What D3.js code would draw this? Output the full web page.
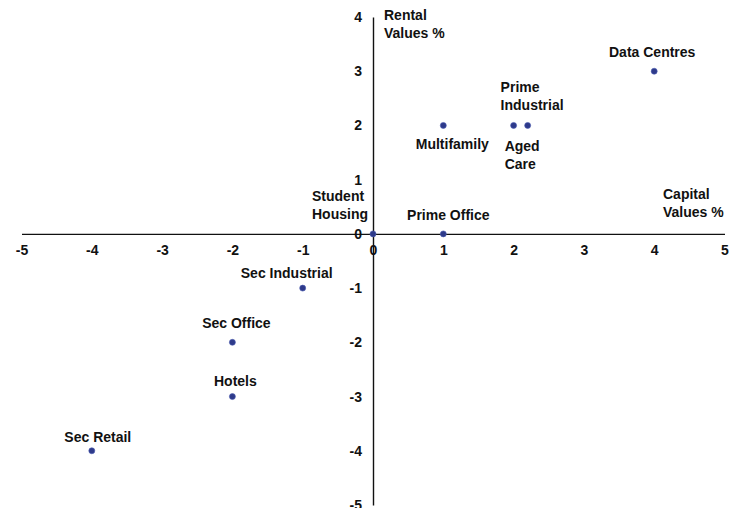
<!DOCTYPE html>
<html>
<head>
<meta charset="utf-8">
<script src="https://cdn.jsdelivr.net/npm/d3@7"></script>
<style>
  html, body { margin: 0; padding: 0; background: #fff; }
  svg { display: block; }
  .tick text { font-family: "Liberation Sans Narrow", "Liberation Sans", Arial, sans-serif; font-weight: bold; font-size: 14px; fill: #111; }
  .lbl { font-family: "Liberation Sans", Arial, sans-serif; font-weight: bold; font-size: 14px; fill: #111; }
</style>
</head>
<body>
<svg id="chart" width="740" height="508"></svg>
<script>
// Sectors: expected change in capital values (x) vs rental values (y), %
const sectors = ["Data Centres", "Prime Industrial", "Aged Care", "Multifamily", "Student Housing",
                 "Prime Office", "Sec Industrial", "Sec Office", "Hotels", "Sec Retail"];
const capitalValues = [4, 2, 2.2, 1, 0, 1, -1, -2, -2, -4];
const rentalValues  = [3, 2, 2, 2, 0, 0, -1, -2, -3, -4];
const xTicks = [-5, -4, -3, -2, -1, 0, 1, 2, 3, 4, 5];
const yTicks = [4, 3, 2, 1, 0, -1, -2, -3, -4, -5];

// Label placement relative to each point (pixels)
const labelPlacement = [
  { dx: -2,  dy: -14, anchor: "middle", lines: ["Data Centres"] },
  { dx: -13, dy: -33, anchor: "start",  lines: ["Prime", "Industrial"] },
  { dx: -23, dy: 26,  anchor: "start",  lines: ["Aged", "Care"] },
  { dx: 9,   dy: 24,  anchor: "middle", lines: ["Multifamily"] },
  { dx: -61, dy: -33, anchor: "start",  lines: ["Student", "Housing"] },
  { dx: 5,   dy: -14, anchor: "middle", lines: ["Prime Office"] },
  { dx: -16, dy: -10, anchor: "middle", lines: ["Sec Industrial"] },
  { dx: 4,   dy: -14, anchor: "middle", lines: ["Sec Office"] },
  { dx: 3,   dy: -11, anchor: "middle", lines: ["Hotels"] },
  { dx: 6,   dy: -9,  anchor: "middle", lines: ["Sec Retail"] }
];

const svg = d3.select("#chart");
const x = d3.scaleLinear().domain([-5, 5]).range([21.5, 724.5]);
const y = d3.scaleLinear().domain([-5, 4]).range([505, 17]);
const fmt = d => String(d);  // plain hyphen for negatives

// Horizontal axis through y = 0
const xAxis = svg.append("g")
  .attr("transform", `translate(0,${y(0)})`)
  .call(d3.axisBottom(x).tickValues(xTicks).tickFormat(fmt).tickSize(0).tickPadding(11));
xAxis.select(".domain").attr("stroke", "#111").attr("stroke-width", 1.4);

// Vertical axis through x = 0
const yAxis = svg.append("g")
  .attr("transform", `translate(${x(0)},0)`)
  .call(d3.axisLeft(y).tickValues(yTicks).tickFormat(fmt).tickSize(0).tickPadding(11));
yAxis.select(".domain").attr("stroke", "#111").attr("stroke-width", 1.4);

// Axis titles
const titles = [
  { lines: ["Rental", "Values %"], x: 384, y: 20 },
  { lines: ["Capital", "Values %"], x: 663, y: 199 }
];
titles.forEach(t => {
  const txt = svg.append("text").attr("class", "lbl").attr("x", t.x).attr("y", t.y);
  t.lines.forEach((l, i) => txt.append("tspan").attr("x", t.x).attr("dy", i ? 18 : 0).text(l));
});

// Points
const data = sectors.map((s, i) => ({ name: s, cv: capitalValues[i], rv: rentalValues[i], p: labelPlacement[i] }));

svg.append("g").selectAll("circle").data(data).join("circle")
  .attr("cx", d => x(d.cv))
  .attr("cy", d => y(d.rv))
  .attr("r", 3)
  .attr("fill", "#2e3a8a")
  .attr("stroke", "#4a5bb0")
  .attr("stroke-width", 0.6);

// Point labels
data.forEach(d => {
  const px = x(d.cv) + d.p.dx, py = y(d.rv) + d.p.dy;
  const txt = svg.append("text").attr("class", "lbl").attr("x", px).attr("y", py)
    .attr("text-anchor", d.p.anchor);
  d.p.lines.forEach((l, i) => txt.append("tspan").attr("x", px).attr("dy", i ? 18 : 0).text(l));
});
</script>
</body>
</html>
